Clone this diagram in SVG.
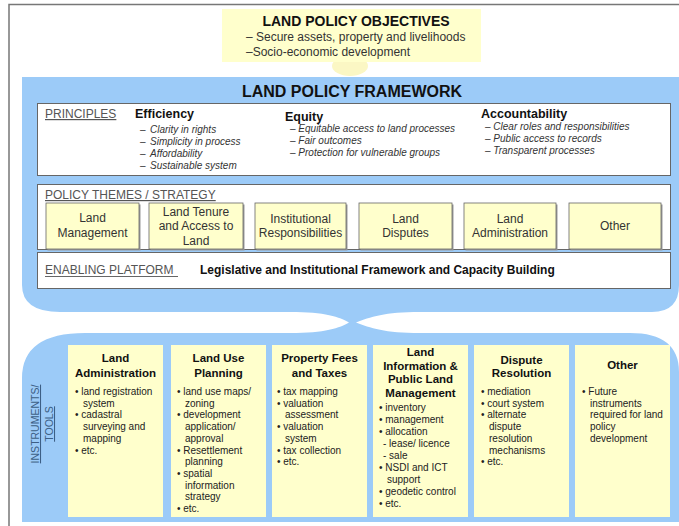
<svg xmlns="http://www.w3.org/2000/svg" width="679" height="526" viewBox="0 0 679 526">
<defs>
<style>
text{font-family:"Liberation Sans",Arial,sans-serif;fill:#222}
.ttl{font-weight:bold;font-size:14px;fill:#111}
.obj{font-size:12px;fill:#333}
.fw{font-weight:bold;font-size:16px;fill:#111}
.lab{font-size:12px;fill:#555;text-decoration:underline}
.ph{font-weight:bold;font-size:12.5px;fill:#111}
.pi{font-style:italic;font-size:10px;fill:#333}
.box{fill:#fff;stroke:#666;stroke-width:1}
.th{fill:#ffffcc;stroke:#666;stroke-width:0.8}
.sh{fill:#999}
.tt{font-size:12px;fill:#333}
.col{fill:#ffffcc}
.ch{font-weight:bold;font-size:11.5px;fill:#111}
.ci{font-size:10px;fill:#222}
.blue{fill:#9ccbf8}
.lens{fill:#fff}
.vt{font-size:10.5px;fill:#3d5f85;text-decoration:underline}
</style>
</defs>
<rect width="679" height="526" fill="#fff"/>
<g id="frame" fill="none" stroke="#777" stroke-width="1.5">
<path d="M9,526 V4.5 H679"/>
</g>

<g id="blue-band">
<rect class="blue" x="22" y="77" width="657" height="445"/>
</g>

<g id="connectors">
<ellipse cx="350" cy="66" rx="18" ry="10" fill="#fbf7c4"/>
<path class="lens" d="M10,285 H22 Q22,312 60,312 H290 C325,312 340,317 349,322.5 C340,328 325,333 290,333 H85 Q22,333 22,378 H10 Z"/>
<path class="lens" d="M679,285 Q679,312 652,312 H420 C385,312 370,317 356,322.5 C370,328 385,333 420,333 H630 Q679,333 679,372 Z"/>
</g>

<g id="objectives">
<rect x="222" y="9" width="259" height="53" fill="#ffffcc"/>
<text class="ttl" x="356" y="26" text-anchor="middle">LAND POLICY OBJECTIVES</text>
<text class="obj" x="246" y="41">– Secure assets, property and livelihoods</text>
<text class="obj" x="246" y="56">–Socio-economic development</text>
</g>

<g id="framework">
<text class="fw" x="352" y="97" text-anchor="middle">LAND POLICY FRAMEWORK</text>
</g>

<g id="principles">
<rect class="box" x="37.5" y="103.5" width="633" height="72"/>
<text class="lab" x="45" y="118">PRINCIPLES</text>
<text class="ph" x="135" y="118">Efficiency</text>
<text class="pi"><tspan x="140" y="132.5">–</tspan><tspan x="150" y="132.5">Clarity in rights</tspan><tspan x="140" y="144.5">–</tspan><tspan x="150" y="144.5">Simplicity in process</tspan><tspan x="140" y="156.5">–</tspan><tspan x="150" y="156.5">Affordability</tspan><tspan x="140" y="168.5">–</tspan><tspan x="150" y="168.5">Sustainable system</tspan></text>
<text class="ph" x="285" y="121">Equity</text>
<text class="pi"><tspan x="290" y="131.5">– Equitable access to land processes</tspan><tspan x="290" y="143.5">– Fair outcomes</tspan><tspan x="290" y="155.5">– Protection for vulnerable groups</tspan></text>
<text class="ph" x="481" y="118">Accountability</text>
<text class="pi"><tspan x="485" y="130">– Clear roles and responsibilities</tspan><tspan x="485" y="142">– Public access to records</tspan><tspan x="485" y="154">– Transparent processes</tspan></text>
</g>

<g id="themes">
<rect class="box" x="37.5" y="184.5" width="633" height="65"/>
<text class="lab" x="45" y="199">POLICY THEMES / STRATEGY</text>
</g>
<g id="theme-land-management">
<rect class="sh" x="47.5" y="204.5" width="93" height="46"/>
<rect class="th" x="46" y="203" width="93" height="46"/>
<text class="tt" text-anchor="middle"><tspan x="92.5" y="222">Land</tspan><tspan x="92.5" y="237">Management</tspan></text>
</g>
<g id="theme-land-tenure">
<rect class="sh" x="150.5" y="204.5" width="94" height="46"/>
<rect class="th" x="149" y="203" width="94" height="46"/>
<text class="tt" text-anchor="middle"><tspan x="196" y="215.5">Land Tenure</tspan><tspan x="196" y="230">and Access to</tspan><tspan x="196" y="244.5">Land</tspan></text>
</g>
<g id="theme-institutional">
<rect class="sh" x="256.5" y="204.5" width="91" height="46"/>
<rect class="th" x="255" y="203" width="91" height="46"/>
<text class="tt" text-anchor="middle"><tspan x="300.5" y="223">Institutional</tspan><tspan x="300.5" y="237">Responsibilities</tspan></text>
</g>
<g id="theme-land-disputes">
<rect class="sh" x="360.5" y="204.5" width="93" height="46"/>
<rect class="th" x="359" y="203" width="93" height="46"/>
<text class="tt" text-anchor="middle"><tspan x="405.5" y="223">Land</tspan><tspan x="405.5" y="237">Disputes</tspan></text>
</g>
<g id="theme-land-administration">
<rect class="sh" x="465.5" y="204.5" width="92" height="46"/>
<rect class="th" x="464" y="203" width="92" height="46"/>
<text class="tt" text-anchor="middle"><tspan x="510" y="223">Land</tspan><tspan x="510" y="237">Administration</tspan></text>
</g>
<g id="theme-other">
<rect class="sh" x="570.5" y="204.5" width="92" height="46"/>
<rect class="th" x="569" y="203" width="92" height="46"/>
<text class="tt" x="615" y="230" text-anchor="middle">Other</text>
</g>

<g id="enabling">
<rect class="box" x="37.5" y="252.5" width="633" height="36"/>
<text x="45" y="274" style="font-size:12px;fill:#555">ENABLING PLATFORM</text>
<line x1="45" y1="276.5" x2="178" y2="276.5" stroke="#555" stroke-width="0.9"/>
<text x="200" y="274" style="font-weight:bold;font-size:12px;fill:#111">Legislative and Institutional Framework and Capacity Building</text>
</g>

<g id="instruments-label">
<text class="vt" transform="translate(39,424) rotate(-90)" text-anchor="middle"><tspan x="0" y="0">INSTRUMENTS/</tspan><tspan x="0" y="14">TOOLS</tspan></text>
</g>

<g id="tool-land-administration">
<rect class="col" x="68" y="345" width="95" height="172"/>
<text class="ch" text-anchor="middle"><tspan x="115.5" y="362">Land</tspan><tspan x="115.5" y="377">Administration</tspan></text>
<text class="ci"><tspan x="75" y="395">• land registration</tspan><tspan x="83" y="406.7">system</tspan><tspan x="75" y="418.4">• cadastral</tspan><tspan x="83" y="430.1">surveying and</tspan><tspan x="83" y="441.8">mapping</tspan><tspan x="75" y="453.5">• etc.</tspan></text>
</g>
<g id="tool-land-use-planning">
<rect class="col" x="171" y="345" width="95" height="172"/>
<text class="ch" text-anchor="middle"><tspan x="218.5" y="362">Land Use</tspan><tspan x="218.5" y="377">Planning</tspan></text>
<text class="ci"><tspan x="177" y="395">• land use maps/</tspan><tspan x="185" y="406.7">zoning</tspan><tspan x="177" y="418.4">• development</tspan><tspan x="185" y="430.1">application/</tspan><tspan x="185" y="441.8">approval</tspan><tspan x="177" y="453.5">• Resettlement</tspan><tspan x="185" y="465.2">planning</tspan><tspan x="177" y="476.9">• spatial</tspan><tspan x="185" y="488.6">information</tspan><tspan x="185" y="500.3">strategy</tspan><tspan x="177" y="512">• etc.</tspan></text>
</g>
<g id="tool-property-fees">
<rect class="col" x="272" y="345" width="95" height="172"/>
<text class="ch" text-anchor="middle"><tspan x="319.5" y="362">Property Fees</tspan><tspan x="319.5" y="377">and Taxes</tspan></text>
<text class="ci"><tspan x="277" y="395">• tax mapping</tspan><tspan x="277" y="406.7">• valuation</tspan><tspan x="285" y="418.4">assessment</tspan><tspan x="277" y="430.1">• valuation</tspan><tspan x="285" y="441.8">system</tspan><tspan x="277" y="453.5">• tax collection</tspan><tspan x="277" y="465.2">• etc.</tspan></text>
</g>
<g id="tool-land-information">
<rect class="col" x="373" y="345" width="95" height="172"/>
<text class="ch" text-anchor="middle"><tspan x="420.5" y="356">Land</tspan><tspan x="420.5" y="369.5">Information &amp;</tspan><tspan x="420.5" y="383">Public Land</tspan><tspan x="420.5" y="396.5">Management</tspan></text>
<text class="ci"><tspan x="379" y="410.5">• inventory</tspan><tspan x="379" y="422.5">• management</tspan><tspan x="379" y="434.5">• allocation</tspan><tspan x="383" y="446.5">- lease/ licence</tspan><tspan x="383" y="458.5">- sale</tspan><tspan x="379" y="470.5">• NSDI and ICT</tspan><tspan x="387" y="482.5">support</tspan><tspan x="379" y="494.5">• geodetic control</tspan><tspan x="379" y="506.5">• etc.</tspan></text>
</g>
<g id="tool-dispute-resolution">
<rect class="col" x="474" y="345" width="95" height="172"/>
<text class="ch" text-anchor="middle"><tspan x="521.5" y="364">Dispute</tspan><tspan x="521.5" y="377">Resolution</tspan></text>
<text class="ci"><tspan x="481" y="395">• mediation</tspan><tspan x="481" y="406.7">• court system</tspan><tspan x="481" y="418.4">• alternate</tspan><tspan x="489" y="430.1">dispute</tspan><tspan x="489" y="441.8">resolution</tspan><tspan x="489" y="453.5">mechanisms</tspan><tspan x="481" y="465.2">• etc.</tspan></text>
</g>
<g id="tool-other">
<rect class="col" x="575" y="345" width="95" height="172"/>
<text class="ch" x="622.5" y="369" text-anchor="middle">Other</text>
<text class="ci"><tspan x="582" y="395">• Future</tspan><tspan x="590" y="406.7">instruments</tspan><tspan x="590" y="418.4">required for land</tspan><tspan x="590" y="430.1">policy</tspan><tspan x="590" y="441.8">development</tspan></text>
</g>
</svg>
